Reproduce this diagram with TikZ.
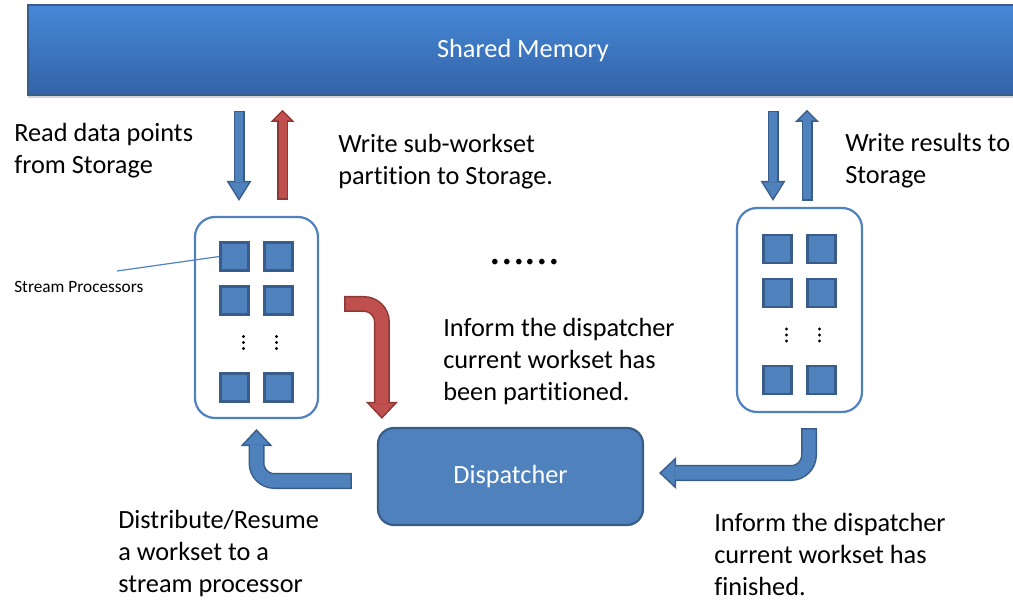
\documentclass[tikz,border=0pt]{standalone}
\usepackage{fontspec}
\setmainfont{Carlito}[Ligatures=NoCommon]
\usetikzlibrary{arrows.meta,shadows}
\newlength\px
\setlength\px{0.025cm}
\definecolor{boxblue}{HTML}{4F81BD}
\definecolor{boxline}{HTML}{385D8A}
\definecolor{arrred}{HTML}{C0504D}
\definecolor{redline}{HTML}{8C3836}
\definecolor{memtop}{HTML}{4688D8}
\definecolor{membot}{HTML}{3363A6}
\newcommand\lbl{\fontsize{18.7}{22.8}\selectfont}
\tikzset{
	sm/.style={draw=boxblue, line width=2.2\px, rounded corners=20\px, fill=white},
	proc/.style={draw=boxline, fill=boxblue, line width=2.2\px, minimum size=28\px, inner sep=0pt},
	txt/.style={anchor=north west, align=left, inner sep=0pt, font=\lbl},
	% straight arrows, long head (tip sizes in cm, 1px = 0.025cm)
	barrowA/.style 2 args={draw=#2, line width=11\px, -{Triangle[width=0.625cm,length=0.5cm,line width=0pt]},
		postaction={draw=#1, line width=8\px, shorten <=1.5\px, shorten >=2.8\px, -{Triangle[width=0.49cm,length=0.3925cm,line width=0pt]}}},
	% straight arrows, short head
	barrowB/.style 2 args={draw=#2, line width=11\px, -{Triangle[width=0.6cm,length=0.3cm,line width=0pt]},
		postaction={draw=#1, line width=8\px, shorten <=1.5\px, shorten >=2.1\px, -{Triangle[width=0.42cm,length=0.21cm,line width=0pt]}}},
	% bent arrows
	barrowC/.style 2 args={draw=#2, line width=16\px, rounded corners=18\px, -{Triangle[width=0.8cm,length=0.425cm,line width=0pt]},
		postaction={draw=#1, line width=13\px, shorten <=1.5\px, shorten >=2.2\px, -{Triangle[width=0.625cm,length=0.3325cm,line width=0pt]}}},
}
\begin{document}
\begin{tikzpicture}[x=1\px,y=-1\px]
	\useasboundingbox (0,0) rectangle (1013,602);
	\node[top color=memtop, bottom color=membot, draw=boxline, line width=1.5\px, minimum width=990\px, minimum height=90\px,
		drop shadow={shadow xshift=0pt, shadow yshift=-3\px, opacity=0.35}, text=white, font=\lbl] (mem) at (523,50) {Shared Memory};
	%
	\node[sm, minimum width=123\px, minimum height=201\px] (procL) at (256.5,317.5) {};
	\node[sm, minimum width=125\px, minimum height=204\px] (procR) at (799.5,310) {};
	\node[draw=boxline, fill=boxblue, line width=2.2\px, rounded corners=16\px, minimum width=265\px, minimum height=97\px,
		text=white, font=\lbl] (disp) at (510.5,476.5) {Dispatcher};
	%
	\foreach \p in {procL,procR}
	{	\foreach \r/\y in {1/-61, 2/-17, 3/70}
		{	\node[proc] (\p\r a) at ([shift={(-22,\y)}]\p) {};
			\node[proc] (\p\r b) at ([shift={(22,\y)}]\p) {};
		}
		% vertical dots
		\foreach \x in {-13,20}
			\foreach \y in {19,25,31}
				\fill ([shift={(\x,\y)}]\p) circle (1.6\px);
	}
	%
	\draw[barrowA={boxblue}{boxline}] ([xshift=-17.5\px,yshift=105\px]procL.north) -- ([xshift=-17.5\px,yshift=15\px]procL.north);
	\draw[barrowB={arrred}{redline}] ([xshift=26\px,yshift=16\px]procL.north) -- ([xshift=26\px,yshift=106\px]procL.north);
	\draw[barrowA={boxblue}{boxline}] ([xshift=-26.5\px,yshift=96\px]procR.north) -- ([xshift=-26.5\px,yshift=6\px]procR.north);
	\draw[barrowB={boxblue}{boxline}] ([xshift=7.5\px,yshift=6\px]procR.north) -- ([xshift=7.5\px,yshift=97\px]procR.north);
	%
	\draw[barrowC={arrred}{redline}] ([xshift=25\px,yshift=13.5\px]procL.east) -| ([xshift=5\px,yshift=8\px]disp.north west);
	\draw[barrowC={boxblue}{boxline}] ([xshift=9.5\px,yshift=-15\px]procR.south) |- ([xshift=15\px,yshift=3.5\px]disp.east);
	\draw[barrowC={boxblue}{boxline}] ([xshift=-25\px,yshift=-4.5\px]disp.west) -| ([yshift=-10\px]procL.south);
	%
	\node[txt] (read) at (14,123) {Read data points\\from Storage};
	\node[txt] (wsub) at (338,134) {Write sub-workset\\partition to Storage.};
	\node[txt] (wres) at (845,133) {Write results to\\Storage};
	\node[txt] (part) at (443,318) {Inform the dispatcher\\current workset has\\been partitioned.};
	\node[txt] (dist) at (118,510) {Distribute/Resume\\a workset to a\\stream processor};
	\node[txt] (fin) at (714,513) {Inform the dispatcher\\current workset has\\finished.};
	\node[anchor=west, inner sep=0pt, font=\fontsize{12.3}{14}\selectfont] (sp) at (14,287) {Stream Processors};
	\node[inner sep=0pt, font=\fontsize{33}{35}\selectfont] (more) at (525,262) {......};
	%
	\coordinate (lead) at (117,271);
	\draw[boxblue, line width=1.2\px] (lead) -- (procL1a.west);
\end{tikzpicture}
\end{document}
